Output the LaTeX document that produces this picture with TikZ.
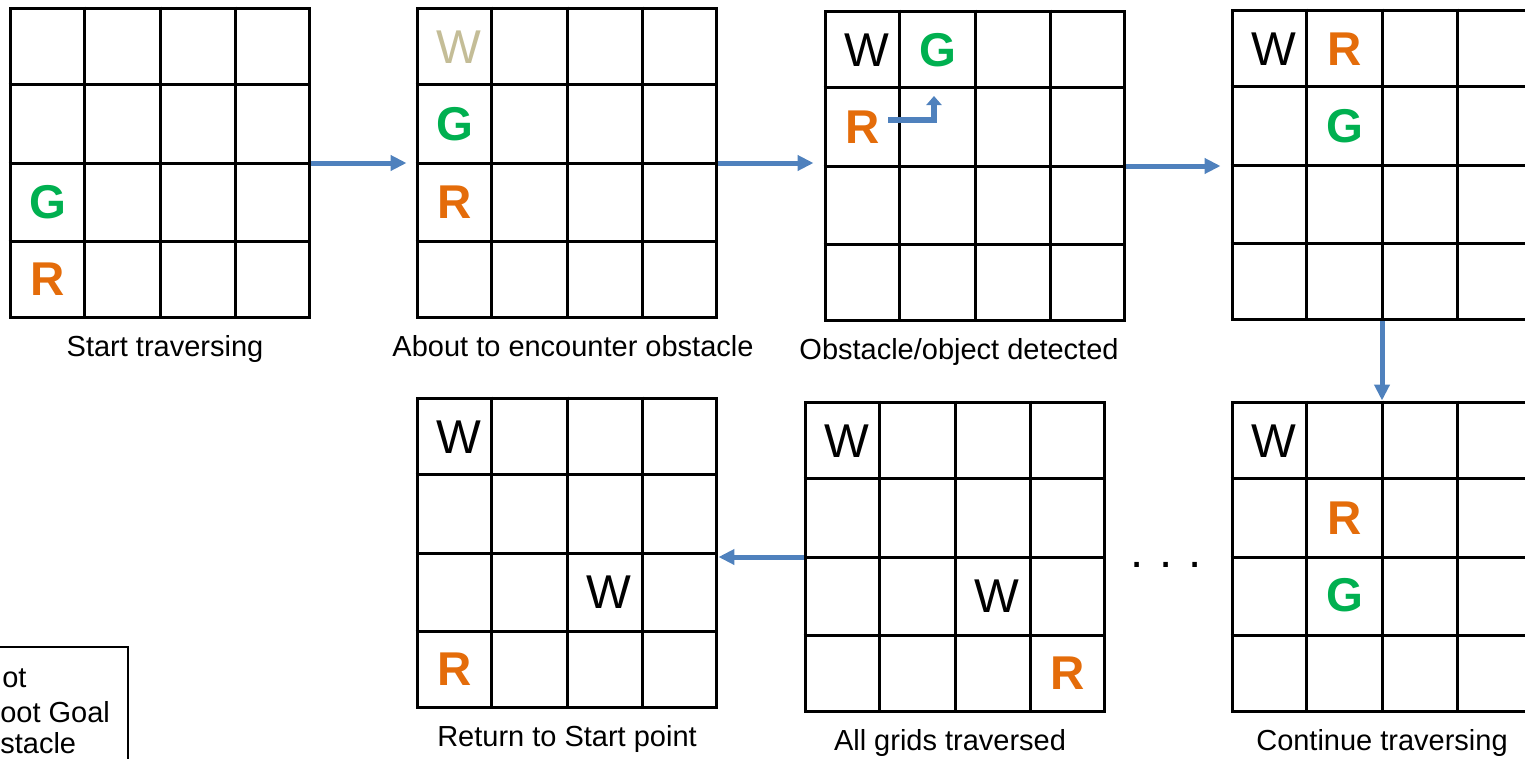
\documentclass[tikz,border=0pt]{standalone}
\usepackage{fontspec}
\setmainfont{Liberation Sans}
\usetikzlibrary{arrows.meta, positioning, calc}

\definecolor{flowblue}{HTML}{4F81BD}
\definecolor{robotorange}{HTML}{E46C0A}
\definecolor{goalgreen}{HTML}{00B050}
\definecolor{faintwall}{HTML}{C4BD97}

\begin{document}
\begin{tikzpicture}[
    x=0.02cm, y=-0.02cm,
    board/.style = {rectangle, draw=black, line width=0.06cm, minimum width=6cm, minimum height=6.2cm, inner sep=0pt},
    gridline/.style = {draw=black, line width=0.06cm},
    robot/.style = {text=robotorange, font=\fontsize{27}{30}\selectfont\bfseries},
    goal/.style = {text=goalgreen, font=\fontsize{27}{30}\selectfont\bfseries},
    wall/.style = {text=black, font=\fontsize{27}{30}\selectfont},
    oldwall/.style = {wall, text=faintwall},
    caption/.style = {font=\fontsize{16.5}{19}\selectfont, inner sep=0pt},
    flow/.style = {-{Triangle[length=0.32cm, width=0.3cm]}, line width=0.1cm, draw=flowblue},
    turn/.style = {-{Triangle[length=0.18cm, width=0.3cm]}, line width=0.13cm, draw=flowblue, line join=miter}
]

\useasboundingbox (0,0) rectangle (1525,758);
\clip (0,0) rectangle (1525,758);

% Boards: top row left to right, bottom row right to left
\node[board] (g1) at (160,163) {};
\node[board] (g2) at (567,163) {};
\node[board] (g3) at (975,166) {};
\node[board] (g4) at (1382,165) {};
\node[board] (g5) at (1382,557) {};
\node[board] (g6) at (955,557) {};
\node[board] (g7) at (567,553) {};

% Inner cell lines of every board
\foreach \g in {g1,g2,g3,g4,g5,g6,g7}
  \foreach \f in {0.25,0.5,0.75} {
    \draw[gridline] ($(\g.north west)!\f!(\g.north east)$) -- ($(\g.south west)!\f!(\g.south east)$);
    \draw[gridline] ($(\g.north west)!\f!(\g.south west)$) -- ($(\g.north east)!\f!(\g.south east)$);
  }

% Start traversing
\node[goal] (g1G) at (47.5,201.75) {G};
\node[robot] (g1R) at (47.5,279.25) {R};

% About to encounter obstacle
\node[oldwall] (g2W) at (458.5,46.75) {W};
\node[goal] (g2G) at (454.5,124.25) {G};
\node[robot] (g2R) at (454.5,201.75) {R};

% Obstacle/object detected
\node[wall] (g3W) at (866.5,50.5) {W};
\node[goal] (g3G) at (937.5,50.5) {G};
\node[robot] (g3R) at (862.5,127.5) {R};

% Continue traversing (two boards)
\node[wall] (g4W) at (1273.5,48.75) {W};
\node[robot] (g4R) at (1344.5,48.75) {R};
\node[goal] (g4G) at (1344.5,126.25) {G};
\node[wall] (g5W) at (1273.5,441.5) {W};
\node[robot] (g5R) at (1344.5,518.5) {R};
\node[goal] (g5G) at (1344.5,595.5) {G};

% All grids traversed
\node[wall] (g6Wa) at (846.5,440.75) {W};
\node[wall] (g6Wb) at (996.5,595.75) {W};
\node[robot] (g6R) at (1067.5,673.25) {R};

% Return to Start point
\node[wall] (g7Wa) at (458.5,436.75) {W};
\node[wall] (g7Wb) at (608.5,591.75) {W};
\node[robot] (g7R) at (454.5,669.25) {R};

% Captions under the boards
\node[caption, below=0.32cm of g1, xshift=0.1cm] (c1) {Start traversing};
\node[caption, below=0.32cm of g2, xshift=0.12cm] (c2) {About to encounter obstacle};
\node[caption, below=0.32cm of g3, xshift=-0.32cm] (c3) {Obstacle/object detected};
\node[caption, below=0.32cm of g5] (c5) {Continue traversing};
\node[caption, below=0.32cm of g6, xshift=-0.1cm] (c6) {All grids traversed};
\node[caption, below=0.32cm of g7] (c7) {Return to Start point};

% Steps between boards
\draw[flow, shorten >=0.18cm] (g1.east) -- (g1.east -| g2.west);
\draw[flow, shorten >=0.2cm] (g2.east) -- (g2.east -| g3.west);
\draw[flow, shorten >=0.2cm] (g3.east) -- (g3.east -| g4.west);
\draw[flow] (g4.south) -- (g5.north);
\draw[flow] (g6.west) -- (g6.west -| g7.east);

% Robot turning towards the goal
\coordinate (turnstart) at (888,120);
\coordinate (turnend) at (934,96);
\draw[turn] (turnstart) -| (turnend);

% More steps in between
\node[wall] (more) at (1166,565) {.\,\,.\,\,.};

% Key, as far as it shows at the page edge
\draw[line width=0.8pt] (-160,647) rectangle (128,800);
\node[caption, anchor=base west] (keyR) at (2,687) {ot};
\node[caption, anchor=base west] (keyG) at (0,722) {oot Goal};
\node[caption, anchor=base west] (keyW) at (0,753) {stacle};

\end{tikzpicture}
\end{document}
